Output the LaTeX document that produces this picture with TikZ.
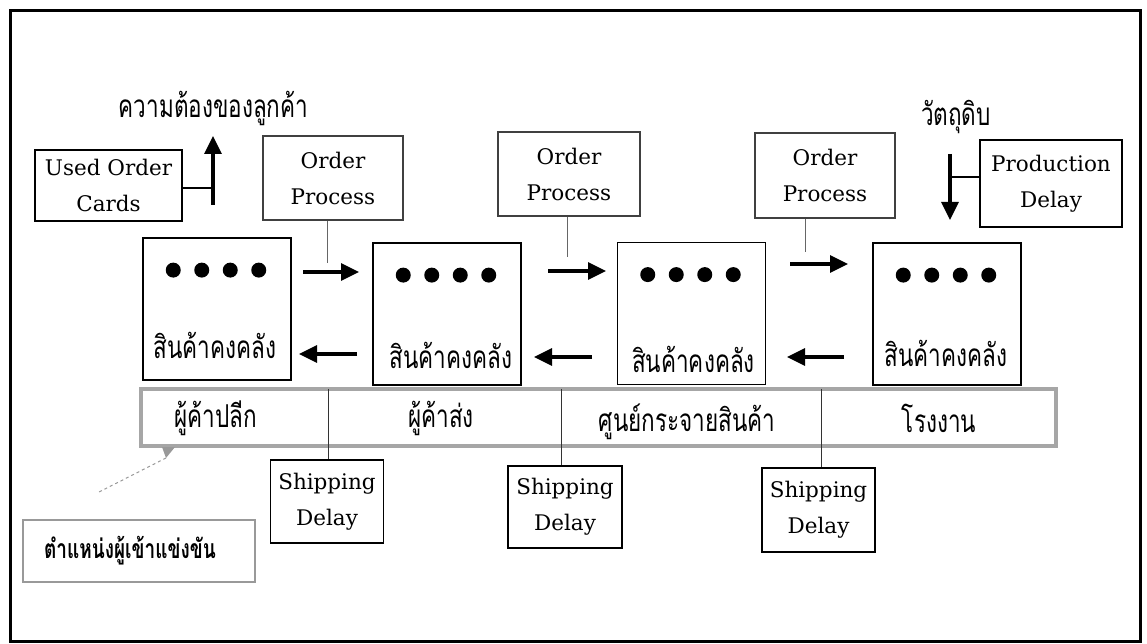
\documentclass[tikz,border=0pt]{standalone}
\usepackage{fontspec}
\usepackage{graphicx}
\setmainfont{DejaVu Serif}
\newfontfamily\thaifont[Script=Thai]{Loma}
\newcommand\tallthai[1]{\scalebox{1}[1.4]{#1}}
\usetikzlibrary{arrows.meta,calc}
\begin{document}
\begin{tikzpicture}[x=1pt,y=-1pt,
  eng/.style={font=\fontsize{21.5}{36}\selectfont},
  box/.style={draw, line width=1.3pt, inner sep=0pt, align=center, eng},
  opbox/.style={box, draw=black!75},
  invbox/.style={draw, line width=1.8pt, inner sep=0pt, minimum width=148pt, minimum height=142pt},
  thai/.style={font=\thaifont\fontsize{22.5}{28}\selectfont, inner sep=0pt},
  flow/.style={line width=3.2pt, -{Triangle[length=18pt,width=17pt]}},
  thinline/.style={line width=0.9pt, black!60},
  dot/.style={fill=black}]
\useasboundingbox (0,0) rectangle (1147,644);
% frame
\draw[line width=3pt] (10,11) rectangle (1140,641);

% top labels
\node[thai] (cust) at (213.5,108) {\tallthai{ความต้องของลูกค้า}};
\node[thai] (raw) at (956,117) {\tallthai{วัตถุดิบ}};

% boxes top row
\node[box, minimum width=147pt, minimum height=71pt] (uoc) at (108.5,185.5) {Used Order\\Cards};
\node[opbox, minimum width=140pt, minimum height=84pt] (op1) at (333,178) {Order\\Process};
\node[opbox, minimum width=142pt, minimum height=84pt] (op2) at (569,174) {Order\\Process};
\node[opbox, minimum width=140pt, minimum height=85pt] (op3) at (825,175.5) {Order\\Process};
\node[box, minimum width=142pt, minimum height=87pt] (pd) at (1051,183.5) {Production\\Delay};

% customer demand arrow and raw material arrow
\coordinate (upb) at (213,205);
\coordinate (upt) at (213,136);
\draw[flow] (upb) -- (upt);
\draw[line width=1.3pt] (uoc.east |- 0,188) -- (upb |- 0,188);
\coordinate (dnt) at (950,154);
\coordinate (dnb) at (950,220);
\draw[flow] (dnt) -- (dnb);
\draw[line width=1.3pt] (pd.west |- 0,177) -- (dnt |- 0,177);

% inventory boxes
\node[invbox] (inv1) at (217,309) {};
\node[invbox] (inv2) at (447,314) {};
\node[invbox] (inv3) at (691.5,313.5) {};
\node[invbox] (inv4) at (947,314) {};
\foreach \b in {inv1,inv2,inv3,inv4}{
  \foreach \k in {-1.5,-0.5,0.5,1.5}{
    \fill ($(\b.north)+(\k*28.5-1,33)$) circle (7.5pt);
  }
}
\node[thai] (t1) at ($(inv1.north)+(-2,108)$) {\tallthai{สินค้าคงคลัง}};
\node[thai] (t2) at ($(inv2.north)+(4,113)$) {\tallthai{สินค้าคงคลัง}};
\node[thai] (t3) at ($(inv3.north)+(2,118)$) {\tallthai{สินค้าคงคลัง}};
\node[thai] (t4) at ($(inv4.north)+(-1,111)$) {\tallthai{สินค้าคงคลัง}};

% flows between inventories
\coordinate (r1s) at (303,272); \coordinate (r1e) at (359,272);
\coordinate (l1s) at (357,354); \coordinate (l1e) at (299,354);
\coordinate (r2s) at (548,271); \coordinate (r2e) at (606,271);
\coordinate (l2s) at (592,357); \coordinate (l2e) at (534,357);
\coordinate (r3s) at (790,264); \coordinate (r3e) at (848,264);
\coordinate (l3s) at (844,357); \coordinate (l3e) at (787,357);
\foreach \s/\e in {r1s/r1e,l1s/l1e,r2s/r2e,l2s/l2e,r3s/r3e,l3s/l3e}
  \draw[flow] (\s) -- (\e);

% order process links
\draw[thinline] (op1.south -| 327,0) -- (327,263);
\draw[thinline] (op2.south -| 567,0) -- (567,257);
\draw[thinline] (op3.south -| 805,0) -- (805,252);

% stage band
\node[draw=black!35, line width=4pt, minimum width=915pt, minimum height=57pt, inner sep=0pt] (band) at (598.5,417.5) {};
\node[thai] (s1) at (216,418) {\tallthai{ผู้ค้าปลีก}};
\node[thai] (s2) at (441,418) {\tallthai{ผู้ค้าส่ง}};
\node[thai] (s3) at (687,422) {\tallthai{ศูนย์กระจายสินค้า}};
\node[thai] (s4) at (939,418) {\tallthai{โรงงาน}};

% shipping delays
\node[box, minimum width=113pt, minimum height=83pt] (sd1) at (327,501.5) {Shipping\\Delay};
\node[box, minimum width=114pt, minimum height=82pt] (sd2) at (565,507) {Shipping\\Delay};
\node[box, minimum width=113pt, minimum height=84pt] (sd3) at (818.5,510) {Shipping\\Delay};
\coordinate (d1) at (328,389);
\coordinate (d2) at (561,389);
\coordinate (d3) at (821,389);
\draw[thinline, black!80] (d1) -- (d1 |- sd1.north);
\draw[thinline, black!80] (d2) -- (d2 |- sd2.north);
\draw[thinline, black!80] (d3) -- (d3 |- sd3.north);

% competitor callout
\node[draw=black!40, line width=1.2pt, minimum width=232pt, minimum height=62pt, inner sep=0pt,
      text width=190pt, align=left, font=\thaifont\bfseries\fontsize{19}{24}\selectfont] (comp) at (139,551) {\tallthai{ตำแหน่งผู้เข้าแข่งขัน}};
\fill[black!40] (162,447) -- (175,447) -- (166,458) -- cycle;
\coordinate (ptip) at (166,458);
\coordinate (pend) at (97,493);
\draw[black!40, line width=1pt, dashed] (ptip) -- (pend);
\end{tikzpicture}
\end{document}
